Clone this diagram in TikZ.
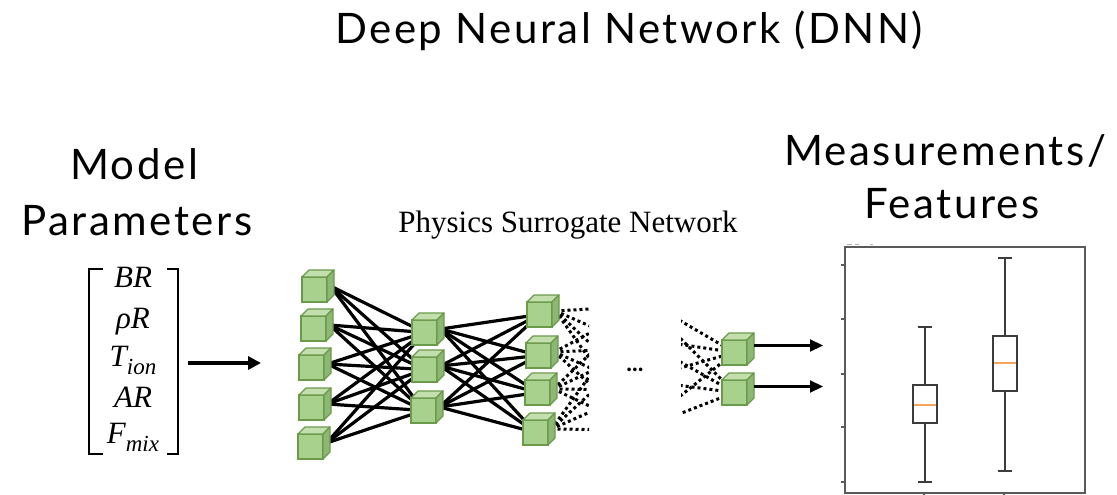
\RequirePackage{fix-cm}
\documentclass[tikz,border=0pt]{standalone}
\usepackage{fontspec}
\setmainfont{Liberation Serif}
\newfontfamily\headfont[LetterSpace=6]{Lato}
\newfontfamily\plainsans{Lato}
\usetikzlibrary{arrows.meta,calc}
\pgfdeclarelayer{wires}
\pgfsetlayers{wires,main}

\definecolor{cubeFace}{HTML}{A9D18E}
\definecolor{cubeTop}{HTML}{C3DFAE}
\definecolor{cubeSide}{HTML}{8DB873}
\definecolor{cubeEdge}{HTML}{6A9A4A}
\definecolor{axisGray}{HTML}{5A5A5A}
\definecolor{boxGray}{HTML}{3C3C3C}
\definecolor{medianOrange}{HTML}{F5A55A}

% italic parameter name with a subscript
\newcommand\varsub[2]{#1\raisebox{-0.28em}{\fontsize{23}{24}\selectfont #2}}

\tikzset{
  head/.style={font=\headfont\fontsize{42}{46}\selectfont, inner sep=0pt, anchor=base},
  subtitle/.style={font=\fontsize{31}{34}\selectfont, inner sep=0pt, anchor=base},
  vecentry/.style={font=\itshape\fontsize{31}{34}\selectfont, inner sep=0pt, anchor=base},
  cubefront/.style={rectangle, draw=cubeEdge, fill=cubeFace, line width=1.2pt,
    minimum size=25pt, inner sep=0pt, outer sep=0pt},
  cubetop/.style={draw=cubeEdge, fill=cubeTop, line width=1.2pt, line join=round},
  cubeside/.style={draw=cubeEdge, fill=cubeSide, line width=1.2pt, line join=round},
  weight/.style={line width=3.2pt, black},
  partial/.style={line width=3pt, black, dash pattern=on 3pt off 3pt},
  feed/.style={line width=3.4pt, -{Triangle[length=13pt,width=13pt]}},
  outarrow/.style={line width=2.1pt, -{Triangle[length=13pt,width=12pt]}},
  bracket/.style={line width=2.2pt, line cap=rect},
  frame/.style={draw=axisGray, line width=1.4pt},
  boxline/.style={draw=boxGray, line width=1.7pt},
  median/.style={draw=medianOrange, line width=1.7pt},
}

% a green cube: front face node plus top and side faces,
% with a coordinate <name>-out at the middle of the side face
\newcommand\drawcube[3]{%
  \node[cubefront] (#1) at (#2,#3) {};
  \filldraw[cubetop] (#1.north west) -- ++(7,-7)
    -- ($(#1.north east)+(7,-7)$) -- (#1.north east) -- cycle;
  \filldraw[cubeside] (#1.north east) -- ++(7,-7)
    -- ($(#1.south east)+(7,-7)$) -- (#1.south east) -- cycle;
  \coordinate (#1-out) at ($(#1.east)+(3.5,-3.5)$);
}

\begin{document}
\begin{tikzpicture}[x=1pt, y=-1pt]
\useasboundingbox (0,0) rectangle (1117,495);

% titles
\node[head] (title) at (629,44) {Deep Neural Network (DNN)};
\node[head] (model) at (134,179) {Model};
\node[head] (params) at (137,235) {Parameters};
\node[head] (meas) at (945,165) {Measurements/};
\node[head] (feat) at (952,218) {Features};
\node[subtitle] (psn) at (568,232) {Physics Surrogate Network};

% parameter vector
\node[vecentry] (p1) at (133,287) {BR};
\node[vecentry] (p2) at (133,328) {ρR};
\node[vecentry] (p3) at (133,366) {\varsub{T}{ion}};
\node[vecentry] (p4) at (133,407) {AR};
\node[vecentry] (p5) at (133,443) {\varsub{F}{mix}};
\draw[bracket] (102,269) -- (89,269) -- (89,454) -- (102,454);
\draw[bracket] (168,269) -- (178,269) -- (178,454) -- (168,454);

\coordinate (in-tail) at (188,363);
\coordinate (in-tip) at (261,363);
\draw[feed] (in-tail) -- (in-tip);

% network layers
\drawcube{a1}{314.5}{289.5}
\drawcube{a2}{313.5}{328.5}
\drawcube{a3}{311.5}{367.5}
\drawcube{a4}{311.5}{407.5}
\drawcube{a5}{310.5}{446.5}

\drawcube{b1}{424.5}{332.5}
\drawcube{b2}{424.5}{369.5}
\drawcube{b3}{423.5}{410.5}

\drawcube{c1}{539.5}{314.5}
\drawcube{c2}{538.5}{355.5}
\drawcube{c3}{537.5}{392.5}
\drawcube{c4}{535.5}{432.5}

\drawcube{o1}{734.5}{352.5}
\drawcube{o2}{734.5}{392.5}

% layers hidden behind the ellipsis
\coordinate (h1) at (640,306);
\coordinate (h2) at (640,348);
\coordinate (h3) at (640,390);
\coordinate (h4) at (640,430);
\coordinate (g1) at (638,296);
\coordinate (g2) at (638,338);
\coordinate (g3) at (638,380);
\coordinate (g4) at (638,430);

\node[font=\plainsans\bfseries\fontsize{24}{26}\selectfont, inner sep=0pt, anchor=base]
  (ellipsis) at (635,371) {...};

\begin{pgfonlayer}{wires}
  \foreach \i in {1,...,5} \foreach \j in {1,2,3}
    \draw[weight] (a\i-out) -- (b\j.center);
  \foreach \i in {1,2,3} \foreach \j in {1,...,4}
    \draw[weight] (b\i-out) -- (c\j.center);
  \begin{scope}
    \clip (545,280) rectangle (589,460);
    \foreach \i in {1,...,4} \foreach \j in {1,...,4}
      \draw[partial] (c\i-out) -- (h\j);
  \end{scope}
  \begin{scope}
    \clip (681,280) rectangle (740,460);
    \foreach \i in {1,...,4} \foreach \j in {1,2}
      \draw[partial] (g\i) -- (o\j.center);
  \end{scope}
\end{pgfonlayer}

% outputs
\coordinate (q1) at (823,345.5);
\coordinate (q2) at (823,386.5);
\draw[outarrow] ($(o1.east)+(7,-7)$) -- (q1);
\draw[outarrow] ($(o2.east)+(7,-6)$) -- (q2);

% box plot of the predicted features
\draw[frame] (845,247) rectangle (1085,493);
\foreach \y in {265,319,374,427,482} \draw[frame] (841,\y) -- (845,\y);
\foreach \x in {924,1004} \draw[frame] (\x,493) -- (\x,497);
\draw[gray!60, line width=0.8pt] (847,244.5) -- (852,244.5) (855,244.5) -- (859,244.5)
  (870,244.5) -- (873,244.5);

\draw[boxline] (925,327) -- (925,385) (925,423) -- (925,482)
  (918,327) -- (932,327) (918,482) -- (932,482);
\draw[boxline] (913,385) rectangle (937,423);
\draw[median] (914,405) -- (936,405);

\draw[boxline] (1005,258) -- (1005,336) (1005,391) -- (1005,471)
  (998,258) -- (1012,258) (998,471) -- (1012,471);
\draw[boxline] (993,336) rectangle (1017,391);
\draw[median] (994,363) -- (1016,363);
\end{tikzpicture}
\end{document}
